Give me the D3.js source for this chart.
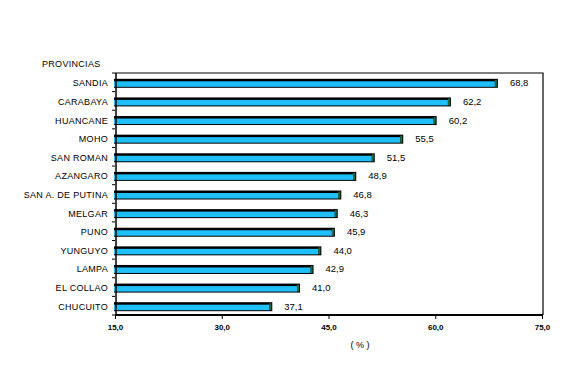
<!DOCTYPE html>
<html>
<head>
<meta charset="utf-8">
<script src="https://cdn.jsdelivr.net/npm/d3@7"></script>
<style>
  body { margin: 0; background: #fff; }
  text { font-family: "Liberation Sans", Arial, sans-serif; }
</style>
</head>
<body>
<div id="chart"></div>
<script>
// Data
var provincias = ["SANDIA", "CARABAYA", "HUANCANE", "MOHO", "SAN ROMAN", "AZANGARO",
  "SAN A. DE PUTINA", "MELGAR", "PUNO", "YUNGUYO", "LAMPA", "EL COLLAO", "CHUCUITO"];
var valores = [68.8, 62.2, 60.2, 55.5, 51.5, 48.9, 46.8, 46.3, 45.9, 44.0, 42.9, 41.0, 37.1];
var xTicks = [15, 30, 45, 60, 75];

var data = provincias.map(function(p, i) { return { name: p, value: valores[i] }; });

var W = 584, H = 373;
var pLeft = 115, pRight = 541, pTop = 73, pBottom = 315;

var svg = d3.select("#chart").append("svg")
  .attr("width", W).attr("height", H);

var x = d3.scaleLinear().domain([15, 75]).range([pLeft, pRight + 1]);
var y = d3.scaleBand().domain(provincias).range([pTop, pBottom]);

var fmt = function(v) { return d3.format(".1f")(v).replace(".", ","); };
var mid = function(d) { return y(d) + y.bandwidth() / 2 + 1; };

// frame (top and right)
svg.append("path")
  .attr("d", "M" + pLeft + "," + pTop + "H" + (pRight + 2) + "V" + pBottom)
  .attr("fill", "none").attr("stroke", "#000").attr("stroke-width", 1.2);

// bars
var bh = 9;
var g = svg.selectAll("g.bar").data(data).enter().append("g").attr("class", "bar");
g.append("rect")
  .attr("x", pLeft - 1)
  .attr("y", function(d) { return mid(d.name) - bh / 2; })
  .attr("width", function(d) { return x(d.value) - pLeft + 1; })
  .attr("height", bh)
  .attr("fill", "#000");
g.append("rect")
  .attr("x", pLeft - 1)
  .attr("y", function(d) { return mid(d.name) - bh / 2 + 2.5; })
  .attr("width", function(d) { return x(d.value) - pLeft - 2; })
  .attr("height", bh - 3.5)
  .attr("fill", "#1fc0fa");
g.append("rect")
  .attr("x", function(d) { return x(d.value) - 3; })
  .attr("y", function(d) { return mid(d.name) - bh / 2 + 1; })
  .attr("width", 2)
  .attr("height", bh - 2)
  .attr("fill", "#1d6b45");
g.append("text")
  .attr("x", function(d) { return x(d.value) + 12; })
  .attr("y", function(d) { return mid(d.name) + 3; })
  .attr("font-size", 9.5)
  .text(function(d) { return fmt(d.value); });

// left axis with ticks at band edges
svg.append("line")
  .attr("x1", pLeft + 1).attr("x2", pLeft + 1)
  .attr("y1", pTop).attr("y2", pBottom)
  .attr("stroke", "#000").attr("stroke-width", 1.5);
var edges = provincias.map(function(p) { return y(p); }).concat([pBottom]);
svg.selectAll("line.ytick").data(edges).enter().append("line")
  .attr("class", "ytick")
  .attr("x1", pLeft - 3).attr("x2", pLeft)
  .attr("y1", function(d) { return d; }).attr("y2", function(d) { return d; })
  .attr("stroke", "#000");
svg.selectAll("text.cat").data(provincias).enter().append("text")
  .attr("class", "cat")
  .attr("x", 108)
  .attr("y", function(d) { return mid(d) + 3; })
  .attr("text-anchor", "end")
  .attr("font-size", 9)
  .attr("letter-spacing", 0.3)
  .text(function(d) { return d; });

// bottom axis
var xAxis = d3.axisBottom(x).tickValues(xTicks).tickSize(4).tickFormat(fmt);
var ax = svg.append("g").attr("transform", "translate(0," + pBottom + ")").call(xAxis);
ax.select(".domain").attr("d", "M" + pLeft + ",0H" + (pRight + 2)).attr("stroke-width", 2);
ax.selectAll(".tick line").attr("stroke", "#000");
ax.selectAll(".tick text")
  .attr("dy", 0).attr("y", 15)
  .attr("font-size", 8).attr("font-weight", "bold")
  .attr("font-family", "DejaVu Sans, sans-serif");

svg.append("text").attr("x", 42).attr("y", 67)
  .attr("font-size", 9).attr("letter-spacing", 0.3).text("PROVINCIAS");
svg.append("text").attr("x", 360).attr("y", 348)
  .attr("text-anchor", "middle")
  .attr("font-size", 9).text("( % )");
</script>
</body>
</html>
